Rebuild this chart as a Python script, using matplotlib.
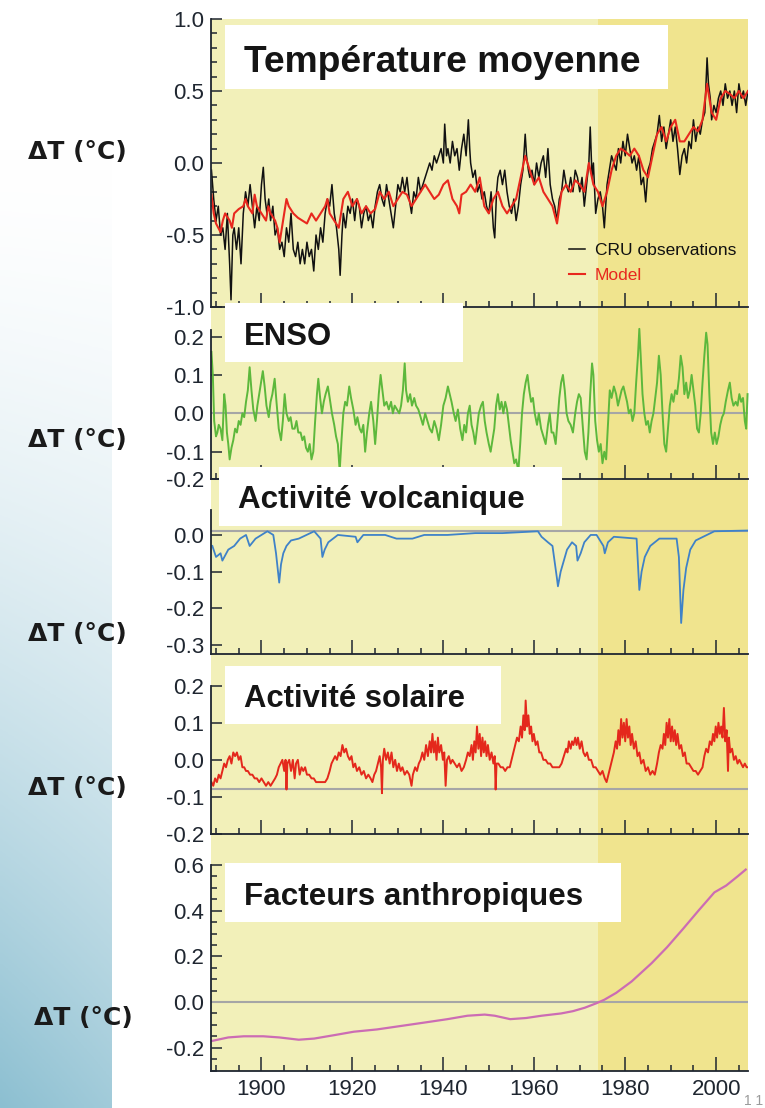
import matplotlib
matplotlib.use('Agg')
import matplotlib.pyplot as plt
import numpy as np
from matplotlib.patches import Rectangle
from matplotlib.ticker import MultipleLocator

W, H = 765, 1108

plt.rcParams['font.family'] = ['Liberation Sans', 'DejaVu Sans']
plt.rcParams['axes.unicode_minus'] = False

# --- series (year, anomaly °C) ---
CRU_OBS = [
    (1889.0, -0.05), (1889.5, -0.25), (1890.0, -0.40), (1890.5, -0.30), (1891.0, -0.50),
    (1891.5, -0.45), (1892.0, -0.60), (1892.5, -0.35), (1893.0, -0.70), (1893.3, -0.95),
    (1893.7, -0.50), (1894.0, -0.45), (1894.5, -0.60), (1895.0, -0.45), (1895.5, -0.70),
    (1896.0, -0.35), (1896.5, -0.20), (1897.0, -0.30), (1897.5, -0.15), (1898.0, -0.30),
    (1898.5, -0.45), (1899.0, -0.30), (1899.5, -0.40), (1900.0, -0.15), (1900.4, -0.03),
    (1900.8, -0.25), (1901.2, -0.35), (1901.6, -0.25), (1902.0, -0.40), (1902.5, -0.30),
    (1903.0, -0.50), (1903.5, -0.45), (1904.0, -0.60), (1904.5, -0.55), (1905.0, -0.65),
    (1905.5, -0.45), (1906.0, -0.55), (1906.5, -0.35), (1907.0, -0.60), (1907.5, -0.65),
    (1908.0, -0.55), (1908.5, -0.70), (1909.0, -0.60), (1909.5, -0.70), (1910.0, -0.55),
    (1910.5, -0.65), (1911.0, -0.60), (1911.5, -0.75), (1912.0, -0.50), (1912.5, -0.60),
    (1913.0, -0.45), (1913.5, -0.55), (1914.0, -0.35), (1914.5, -0.25), (1915.0, -0.30),
    (1915.5, -0.15), (1916.0, -0.35), (1916.5, -0.45), (1917.0, -0.60), (1917.3, -0.78),
    (1917.7, -0.50), (1918.0, -0.35), (1918.5, -0.45), (1919.0, -0.30), (1919.5, -0.35),
    (1920.0, -0.25), (1920.5, -0.40), (1921.0, -0.25), (1921.5, -0.30), (1922.0, -0.45),
    (1922.5, -0.35), (1923.0, -0.30), (1923.5, -0.40), (1924.0, -0.35), (1924.5, -0.45),
    (1925.0, -0.30), (1925.5, -0.20), (1926.0, -0.15), (1926.5, -0.25), (1927.0, -0.30),
    (1927.5, -0.15), (1928.0, -0.25), (1928.5, -0.35), (1929.0, -0.45), (1929.5, -0.30),
    (1930.0, -0.15), (1930.5, -0.20), (1931.0, -0.10), (1931.5, -0.20), (1932.0, -0.10),
    (1932.5, -0.25), (1933.0, -0.35), (1933.5, -0.20), (1934.0, -0.25), (1934.5, -0.10),
    (1935.0, -0.20), (1935.5, -0.15), (1936.0, -0.10), (1936.5, -0.05), (1937.0, 0.00),
    (1937.5, -0.05), (1938.0, 0.05), (1938.5, 0.00), (1939.0, 0.05), (1939.5, 0.10),
    (1940.0, 0.00), (1940.3, 0.27), (1940.7, 0.05), (1941.0, 0.10), (1941.5, 0.00),
    (1942.0, 0.15), (1942.5, 0.05), (1943.0, 0.10), (1943.5, -0.05), (1944.0, 0.10),
    (1944.5, 0.20), (1945.0, 0.05), (1945.5, 0.30), (1945.8, 0.10), (1946.0, 0.00),
    (1946.5, -0.10), (1947.0, -0.05), (1947.5, -0.20), (1948.0, -0.15), (1948.5, -0.25),
    (1949.0, -0.20), (1949.5, -0.30), (1950.0, -0.35), (1950.5, -0.20), (1951.0, -0.45),
    (1951.3, -0.52), (1951.7, -0.20), (1952.0, -0.10), (1952.5, -0.05), (1953.0, -0.15),
    (1953.5, -0.05), (1954.0, -0.20), (1954.5, -0.30), (1955.0, -0.35), (1955.5, -0.25),
    (1956.0, -0.40), (1956.5, -0.30), (1957.0, -0.15), (1957.5, -0.05), (1958.0, 0.20),
    (1958.3, 0.05), (1958.7, -0.05), (1959.0, -0.10), (1959.5, -0.05), (1960.0, -0.15),
    (1960.5, 0.00), (1961.0, -0.10), (1961.5, 0.00), (1962.0, 0.05), (1962.5, -0.10),
    (1963.0, 0.10), (1963.5, -0.15), (1964.0, -0.25), (1964.5, -0.30), (1965.0, -0.40),
    (1965.5, -0.25), (1966.0, -0.20), (1966.5, -0.05), (1967.0, -0.15), (1967.5, -0.20),
    (1968.0, -0.10), (1968.5, -0.20), (1969.0, -0.05), (1969.5, -0.10), (1970.0, -0.20),
    (1970.5, -0.10), (1971.0, -0.30), (1971.5, -0.15), (1972.0, 0.00), (1972.3, 0.25),
    (1972.7, -0.10), (1973.0, 0.00), (1973.5, -0.35), (1974.0, -0.25), (1974.5, -0.20),
    (1975.0, -0.30), (1975.4, -0.45), (1975.8, -0.25), (1976.0, -0.15), (1976.5, -0.05),
    (1977.0, 0.05), (1977.5, 0.00), (1978.0, -0.05), (1978.5, 0.10), (1979.0, 0.00),
    (1979.5, 0.15), (1980.0, 0.05), (1980.5, 0.20), (1981.0, 0.10), (1981.5, 0.00),
    (1982.0, 0.05), (1982.5, -0.05), (1983.0, 0.05), (1983.5, -0.15), (1984.0, -0.10),
    (1984.5, -0.27), (1985.0, -0.05), (1985.5, 0.00), (1986.0, 0.10), (1986.5, 0.15),
    (1987.0, 0.20), (1987.5, 0.33), (1988.0, 0.15), (1988.5, 0.25), (1989.0, 0.10),
    (1989.5, 0.20), (1990.0, 0.30), (1990.5, 0.15), (1991.0, 0.25), (1991.5, 0.10),
    (1992.0, -0.08), (1992.5, 0.05), (1993.0, 0.10), (1993.5, 0.00), (1994.0, 0.15),
    (1994.5, 0.10), (1995.0, 0.30), (1995.5, 0.15), (1996.0, 0.25), (1996.5, 0.20),
    (1997.0, 0.30), (1997.5, 0.35), (1998.0, 0.73), (1998.3, 0.55), (1998.7, 0.45),
    (1999.0, 0.30), (1999.5, 0.40), (2000.0, 0.35), (2000.5, 0.45), (2001.0, 0.50),
    (2001.5, 0.40), (2002.0, 0.55), (2002.5, 0.45), (2003.0, 0.50), (2003.5, 0.40),
    (2004.0, 0.50), (2004.5, 0.35), (2005.0, 0.55), (2005.5, 0.45), (2006.0, 0.50),
    (2006.5, 0.40), (2007.0, 0.50),
]

MODEL = [
    (1889.0, -0.22), (1889.5, -0.35), (1890.0, -0.42), (1890.5, -0.45), (1891.0, -0.48),
    (1891.5, -0.40), (1892.0, -0.35), (1893.0, -0.40), (1893.5, -0.45), (1894.0, -0.35),
    (1895.0, -0.32), (1896.0, -0.30), (1896.5, -0.25), (1897.0, -0.30), (1898.0, -0.35),
    (1898.5, -0.22), (1899.0, -0.30), (1900.0, -0.35), (1901.0, -0.40), (1901.5, -0.30),
    (1902.0, -0.35), (1903.0, -0.40), (1903.5, -0.45), (1904.0, -0.55), (1904.5, -0.45),
    (1905.0, -0.35), (1905.5, -0.25), (1906.0, -0.30), (1907.0, -0.35), (1908.0, -0.38),
    (1909.0, -0.40), (1910.0, -0.42), (1911.0, -0.35), (1912.0, -0.40), (1913.0, -0.35),
    (1914.0, -0.30), (1914.5, -0.25), (1915.0, -0.35), (1916.0, -0.40), (1917.0, -0.45),
    (1917.5, -0.35), (1918.0, -0.25), (1919.0, -0.20), (1920.0, -0.30), (1921.0, -0.25),
    (1922.0, -0.35), (1923.0, -0.30), (1924.0, -0.35), (1925.0, -0.32), (1926.0, -0.20),
    (1927.0, -0.25), (1928.0, -0.20), (1929.0, -0.30), (1930.0, -0.25), (1931.0, -0.20),
    (1932.0, -0.22), (1933.0, -0.30), (1934.0, -0.25), (1935.0, -0.20), (1936.0, -0.15),
    (1937.0, -0.20), (1938.0, -0.25), (1939.0, -0.22), (1940.0, -0.15), (1941.0, -0.12),
    (1942.0, -0.25), (1943.0, -0.30), (1943.5, -0.35), (1944.0, -0.22), (1945.0, -0.20),
    (1946.0, -0.15), (1947.0, -0.20), (1948.0, -0.10), (1949.0, -0.30), (1950.0, -0.35),
    (1951.0, -0.25), (1952.0, -0.20), (1953.0, -0.30), (1954.0, -0.35), (1955.0, -0.30),
    (1956.0, -0.25), (1957.0, -0.10), (1958.0, 0.05), (1959.0, -0.05), (1960.0, -0.15),
    (1961.0, -0.10), (1962.0, -0.20), (1963.0, -0.25), (1964.0, -0.30), (1965.0, -0.42),
    (1966.0, -0.20), (1967.0, -0.15), (1968.0, -0.20), (1969.0, -0.12), (1970.0, -0.15),
    (1971.0, -0.20), (1972.0, 0.00), (1973.0, -0.15), (1974.0, -0.20), (1975.0, -0.30),
    (1976.0, -0.20), (1977.0, -0.05), (1978.0, 0.05), (1979.0, 0.10), (1980.0, 0.08),
    (1981.0, 0.05), (1982.0, 0.10), (1983.0, 0.05), (1984.0, -0.05), (1985.0, -0.10),
    (1986.0, 0.05), (1987.0, 0.20), (1988.0, 0.25), (1989.0, 0.15), (1990.0, 0.25),
    (1991.0, 0.30), (1992.0, 0.15), (1993.0, 0.15), (1994.0, 0.20), (1995.0, 0.25),
    (1996.0, 0.22), (1997.0, 0.30), (1998.0, 0.55), (1998.5, 0.45), (1999.0, 0.35),
    (2000.0, 0.30), (2001.0, 0.45), (2002.0, 0.50), (2003.0, 0.48), (2004.0, 0.45),
    (2005.0, 0.50), (2006.0, 0.45), (2007.0, 0.50),
]

ENSO = [
    (1889.0, 0.16), (1889.3, 0.10), (1889.6, -0.02), (1890.0, -0.06), (1890.3, -0.05),
    (1890.6, -0.03), (1891.0, -0.04), (1891.4, -0.07), (1891.8, 0.05), (1892.1, 0.02),
    (1892.4, -0.05), (1892.7, -0.08), (1893.0, -0.12), (1893.4, -0.09), (1893.8, -0.07),
    (1894.2, -0.04), (1894.6, -0.05), (1895.0, -0.02), (1895.4, -0.03), (1895.8, 0.00),
    (1896.2, -0.01), (1896.6, 0.03), (1897.0, 0.06), (1897.4, 0.12), (1897.8, 0.06),
    (1898.2, 0.01), (1898.7, -0.02), (1899.1, 0.02), (1899.5, 0.05), (1899.9, 0.08),
    (1900.3, 0.11), (1900.7, 0.07), (1901.1, 0.02), (1901.6, -0.01), (1902.0, 0.03),
    (1902.4, 0.05), (1902.9, 0.09), (1903.3, 0.03), (1903.8, -0.04), (1904.3, -0.07),
    (1904.7, -0.02), (1905.1, 0.05), (1905.5, 0.00), (1906.0, -0.02), (1906.4, -0.01),
    (1906.8, -0.04), (1907.3, -0.04), (1907.7, -0.02), (1908.1, -0.05), (1908.6, -0.05),
    (1909.0, -0.07), (1909.4, -0.06), (1909.8, -0.09), (1910.2, -0.10), (1910.6, -0.08),
    (1911.0, -0.12), (1911.4, -0.10), (1911.8, -0.02), (1912.2, 0.05), (1912.5, 0.09),
    (1912.9, 0.04), (1913.3, 0.00), (1913.7, 0.03), (1914.1, 0.05), (1914.6, 0.07),
    (1915.0, 0.04), (1915.5, 0.00), (1916.0, -0.03), (1916.4, -0.06), (1916.8, -0.08),
    (1917.2, -0.15), (1917.6, -0.07), (1918.0, 0.00), (1918.4, 0.03), (1918.8, 0.02),
    (1919.3, 0.07), (1919.7, 0.04), (1920.2, 0.01), (1920.7, -0.03), (1921.1, -0.01),
    (1921.6, -0.04), (1922.0, -0.05), (1922.4, -0.03), (1922.8, -0.10), (1923.2, -0.05),
    (1923.7, 0.00), (1924.1, 0.03), (1924.6, -0.02), (1925.0, -0.08), (1925.4, -0.02),
    (1925.8, 0.05), (1926.2, 0.10), (1926.6, 0.06), (1927.0, 0.02), (1927.5, 0.03),
    (1928.0, 0.01), (1928.5, 0.03), (1928.9, 0.00), (1929.3, 0.02), (1929.8, 0.01),
    (1930.3, 0.00), (1930.7, 0.02), (1931.1, 0.06), (1931.5, 0.13), (1931.8, 0.06),
    (1932.2, 0.03), (1932.7, 0.05), (1933.1, 0.02), (1933.6, 0.04), (1934.0, 0.02),
    (1934.5, 0.01), (1935.0, -0.01), (1935.5, -0.03), (1936.0, 0.00), (1936.5, -0.02),
    (1937.0, -0.04), (1937.5, -0.05), (1938.0, -0.02), (1938.5, -0.04), (1939.0, -0.07),
    (1939.5, -0.03), (1940.0, 0.02), (1940.5, 0.04), (1941.0, 0.07), (1941.4, 0.05),
    (1941.8, 0.03), (1942.3, 0.00), (1942.7, -0.02), (1943.2, 0.01), (1943.7, -0.04),
    (1944.2, -0.07), (1944.6, -0.03), (1945.0, -0.05), (1945.4, 0.00), (1945.8, 0.02),
    (1946.2, -0.03), (1946.6, -0.05), (1947.0, -0.08), (1947.4, -0.04), (1947.8, 0.00),
    (1948.3, 0.02), (1948.7, 0.03), (1949.1, -0.02), (1949.5, -0.05), (1950.0, -0.08),
    (1950.4, -0.10), (1950.8, -0.07), (1951.2, -0.04), (1951.6, 0.02), (1952.0, 0.05),
    (1952.4, 0.01), (1952.8, 0.03), (1953.2, 0.00), (1953.6, 0.03), (1954.0, 0.01),
    (1954.4, -0.03), (1954.8, -0.07), (1955.2, -0.10), (1955.6, -0.13), (1956.0, -0.12),
    (1956.5, -0.15), (1956.9, -0.08), (1957.3, 0.00), (1957.7, 0.05), (1958.1, 0.08),
    (1958.5, 0.10), (1958.9, 0.06), (1959.3, 0.03), (1959.7, 0.04), (1960.1, 0.00),
    (1960.6, -0.03), (1961.0, 0.00), (1961.5, -0.04), (1962.0, -0.06), (1962.5, -0.08),
    (1963.0, -0.03), (1963.4, 0.00), (1963.8, -0.05), (1964.2, -0.05), (1964.7, -0.08),
    (1965.1, -0.02), (1965.5, 0.04), (1965.9, 0.08), (1966.3, 0.10), (1966.7, 0.06),
    (1967.1, 0.00), (1967.5, -0.02), (1968.0, -0.03), (1968.5, -0.05), (1969.0, 0.00),
    (1969.4, 0.03), (1969.8, 0.05), (1970.2, 0.04), (1970.7, -0.04), (1971.1, -0.10),
    (1971.5, -0.12), (1971.9, -0.05), (1972.3, 0.05), (1972.7, 0.13), (1973.0, 0.10),
    (1973.4, -0.02), (1973.8, -0.07), (1974.2, -0.10), (1974.6, -0.08), (1975.0, -0.13),
    (1975.4, -0.10), (1975.8, -0.12), (1976.2, -0.03), (1976.6, 0.06), (1977.0, 0.04),
    (1977.5, 0.07), (1978.0, 0.05), (1978.4, 0.02), (1978.8, 0.04), (1979.2, 0.06),
    (1979.6, 0.07), (1980.0, 0.05), (1980.4, 0.03), (1980.8, 0.00), (1981.2, 0.01),
    (1981.6, -0.02), (1982.0, 0.00), (1982.4, 0.08), (1982.8, 0.15), (1983.1, 0.22),
    (1983.4, 0.15), (1983.8, 0.05), (1984.2, 0.00), (1984.6, -0.03), (1985.0, -0.02),
    (1985.4, -0.05), (1985.8, -0.02), (1986.2, 0.00), (1986.6, 0.04), (1987.0, 0.08),
    (1987.4, 0.15), (1987.8, 0.10), (1988.2, 0.00), (1988.6, -0.08), (1989.0, -0.10),
    (1989.4, -0.04), (1989.8, 0.02), (1990.2, 0.05), (1990.6, 0.03), (1991.0, 0.06),
    (1991.4, 0.05), (1991.8, 0.09), (1992.2, 0.15), (1992.6, 0.12), (1993.0, 0.05),
    (1993.4, 0.08), (1993.8, 0.04), (1994.2, 0.06), (1994.6, 0.10), (1995.0, 0.06),
    (1995.4, 0.02), (1995.8, -0.04), (1996.2, -0.05), (1996.6, 0.00), (1997.0, 0.08),
    (1997.4, 0.15), (1997.8, 0.21), (1998.1, 0.18), (1998.5, 0.05), (1998.9, -0.05),
    (1999.3, -0.08), (1999.7, -0.05), (2000.1, -0.08), (2000.5, -0.06), (2000.9, -0.03),
    (2001.3, -0.01), (2001.7, 0.00), (2002.1, 0.03), (2002.6, 0.06), (2003.0, 0.08),
    (2003.4, 0.04), (2003.8, 0.02), (2004.3, 0.03), (2004.7, 0.02), (2005.1, 0.05),
    (2005.5, 0.03), (2005.9, 0.04), (2006.3, -0.02), (2006.6, -0.04), (2006.9, 0.05),
]

VOLCANIC = [
    (1889.2, -0.03), (1890.0, -0.06), (1891.0, -0.05), (1891.4, -0.07), (1892.7, -0.04),
    (1894.0, -0.03), (1895.3, -0.01), (1896.6, 0.00), (1897.4, -0.03), (1898.7, -0.01),
    (1901.3, 0.01), (1902.6, 0.00), (1903.2, -0.05), (1903.9, -0.13), (1904.3, -0.08),
    (1904.8, -0.05), (1905.5, -0.03), (1906.5, -0.015), (1908.2, -0.01), (1911.6, 0.01),
    (1913.0, -0.01), (1913.4, -0.06), (1913.9, -0.04), (1914.7, -0.02), (1916.8, 0.00),
    (1920.7, -0.005), (1921.1, -0.02), (1922.4, 0.00), (1927.2, 0.00), (1929.7, -0.01),
    (1933.2, -0.01), (1935.8, 0.00), (1940.9, 0.00), (1947.0, 0.005), (1953.0, 0.005),
    (1960.8, 0.01), (1961.6, -0.005), (1963.0, -0.02), (1964.0, -0.03), (1965.0, -0.12),
    (1965.2, -0.14), (1965.8, -0.10), (1966.5, -0.07), (1967.2, -0.04), (1968.3, -0.02),
    (1969.2, -0.03), (1969.5, -0.07), (1970.2, -0.05), (1971.0, -0.02), (1972.4, 0.00),
    (1973.7, 0.00), (1975.2, -0.03), (1975.5, -0.05), (1976.2, -0.02), (1977.5, -0.005),
    (1982.5, -0.01), (1983.1, -0.15), (1983.6, -0.10), (1984.3, -0.06), (1985.5, -0.03),
    (1987.5, -0.01), (1991.3, -0.01), (1991.8, -0.06), (1992.3, -0.24), (1992.8, -0.15),
    (1993.4, -0.09), (1994.3, -0.04), (1995.5, -0.015), (1999.6, 0.01), (2006.9, 0.012),
]

SOLAR = [
    (1889.0, -0.06), (1889.4, -0.07), (1889.8, -0.05), (1890.2, -0.06), (1890.6, -0.04),
    (1891.0, -0.05), (1891.4, -0.03), (1891.8, -0.01), (1892.2, -0.02), (1892.6, 0.00),
    (1893.0, 0.01), (1893.4, -0.01), (1893.8, 0.02), (1894.2, 0.01), (1894.6, 0.02),
    (1895.0, 0.00), (1895.4, 0.01), (1895.8, -0.02), (1896.2, -0.02), (1896.6, -0.03),
    (1897.0, -0.03), (1897.5, -0.04), (1898.0, -0.04), (1898.5, -0.05), (1899.0, -0.05),
    (1899.5, -0.06), (1900.0, -0.05), (1900.5, -0.06), (1901.0, -0.07), (1901.5, -0.06),
    (1902.0, -0.07), (1902.5, -0.06), (1903.0, -0.05), (1903.4, -0.04), (1903.8, -0.02),
    (1904.2, -0.01), (1904.6, 0.00), (1905.0, -0.03), (1905.3, 0.00), (1905.5, -0.08),
    (1905.7, -0.01), (1906.1, 0.00), (1906.5, -0.03), (1906.9, 0.00), (1907.3, -0.05),
    (1907.6, -0.01), (1908.0, 0.00), (1908.4, -0.04), (1908.8, -0.02), (1909.2, -0.03),
    (1909.6, -0.02), (1910.0, -0.04), (1910.5, -0.04), (1911.0, -0.05), (1911.5, -0.05),
    (1912.0, -0.06), (1912.5, -0.06), (1913.0, -0.06), (1913.5, -0.06), (1914.0, -0.06),
    (1914.5, -0.05), (1915.0, -0.03), (1915.4, -0.01), (1915.8, 0.00), (1916.2, 0.01),
    (1916.6, 0.00), (1917.0, 0.02), (1917.4, 0.01), (1917.8, 0.04), (1918.2, 0.02),
    (1918.6, 0.03), (1919.0, 0.01), (1919.4, 0.00), (1919.8, 0.01), (1920.2, -0.02),
    (1920.6, -0.01), (1921.0, -0.03), (1921.5, -0.02), (1922.0, -0.04), (1922.5, -0.03),
    (1923.0, -0.05), (1923.5, -0.04), (1924.0, -0.05), (1924.4, -0.06), (1924.8, -0.04),
    (1925.2, -0.03), (1925.6, -0.01), (1926.0, 0.01), (1926.3, -0.02), (1926.5, -0.09),
    (1926.7, 0.00), (1927.0, 0.03), (1927.4, 0.00), (1927.8, 0.02), (1928.2, -0.01),
    (1928.6, 0.02), (1929.0, -0.02), (1929.4, 0.00), (1929.8, -0.03), (1930.2, -0.01),
    (1930.6, -0.03), (1931.0, -0.02), (1931.5, -0.04), (1932.0, -0.03), (1932.5, -0.04),
    (1933.0, -0.07), (1933.3, -0.04), (1933.8, -0.02), (1934.2, -0.03), (1934.6, -0.01),
    (1935.0, 0.00), (1935.4, 0.02), (1935.8, 0.00), (1936.2, 0.04), (1936.6, 0.01),
    (1937.0, 0.05), (1937.3, 0.02), (1937.6, 0.07), (1937.9, 0.02), (1938.2, 0.05),
    (1938.5, 0.00), (1938.8, 0.06), (1939.1, 0.02), (1939.5, 0.04), (1939.9, 0.00),
    (1940.2, 0.02), (1940.5, -0.07), (1940.8, 0.00), (1941.2, 0.01), (1941.6, -0.01),
    (1942.0, 0.00), (1942.5, -0.01), (1943.0, -0.02), (1943.5, -0.01), (1944.0, -0.03),
    (1944.5, -0.02), (1945.0, 0.00), (1945.4, 0.02), (1945.8, 0.01), (1946.2, 0.04),
    (1946.5, 0.00), (1946.8, 0.05), (1947.1, 0.02), (1947.4, 0.09), (1947.7, 0.03),
    (1948.0, 0.07), (1948.3, 0.01), (1948.6, 0.06), (1948.9, 0.02), (1949.2, 0.05),
    (1949.5, 0.01), (1949.8, 0.04), (1950.2, 0.00), (1950.6, 0.02), (1951.0, -0.01),
    (1951.3, 0.01), (1951.5, -0.08), (1951.7, -0.01), (1952.1, -0.01), (1952.6, -0.02),
    (1953.1, -0.02), (1953.6, -0.03), (1954.1, -0.02), (1954.6, -0.02), (1955.0, 0.00),
    (1955.4, 0.02), (1955.8, 0.04), (1956.2, 0.06), (1956.6, 0.05), (1957.0, 0.09),
    (1957.3, 0.06), (1957.6, 0.12), (1957.9, 0.08), (1958.1, 0.16), (1958.4, 0.09),
    (1958.7, 0.12), (1959.0, 0.07), (1959.3, 0.09), (1959.6, 0.05), (1959.9, 0.07),
    (1960.3, 0.04), (1960.7, 0.05), (1961.1, 0.02), (1961.5, 0.02), (1962.0, 0.00),
    (1962.5, 0.00), (1963.0, -0.01), (1963.5, -0.01), (1964.0, -0.02), (1964.5, -0.02),
    (1965.0, -0.02), (1965.5, -0.02), (1966.0, -0.01), (1966.5, 0.01), (1967.0, 0.03),
    (1967.3, 0.02), (1967.6, 0.05), (1968.0, 0.03), (1968.3, 0.05), (1968.6, 0.04),
    (1969.0, 0.06), (1969.3, 0.04), (1969.6, 0.06), (1970.0, 0.03), (1970.4, 0.05),
    (1970.8, 0.02), (1971.2, 0.01), (1971.6, 0.02), (1972.0, 0.00), (1972.5, 0.00),
    (1973.0, -0.02), (1973.5, -0.02), (1974.0, -0.03), (1974.5, -0.04), (1975.0, -0.03),
    (1975.5, -0.05), (1975.9, -0.06), (1976.3, -0.04), (1976.7, -0.02), (1977.1, 0.00),
    (1977.5, 0.02), (1977.9, 0.05), (1978.2, 0.03), (1978.5, 0.08), (1978.8, 0.04),
    (1979.1, 0.11), (1979.4, 0.06), (1979.7, 0.10), (1980.0, 0.05), (1980.3, 0.11),
    (1980.6, 0.06), (1980.9, 0.09), (1981.2, 0.04), (1981.5, 0.07), (1981.9, 0.03),
    (1982.3, 0.05), (1982.7, 0.01), (1983.1, 0.02), (1983.5, -0.01), (1984.0, 0.00),
    (1984.5, -0.03), (1985.0, -0.02), (1985.5, -0.04), (1986.0, -0.03), (1986.5, -0.04),
    (1987.0, -0.01), (1987.4, 0.02), (1987.8, 0.04), (1988.2, 0.03), (1988.5, 0.07),
    (1988.8, 0.04), (1989.1, 0.10), (1989.4, 0.06), (1989.7, 0.11), (1990.0, 0.05),
    (1990.3, 0.09), (1990.6, 0.05), (1990.9, 0.08), (1991.2, 0.04), (1991.5, 0.07),
    (1991.9, 0.03), (1992.3, 0.04), (1992.7, 0.01), (1993.1, 0.02), (1993.5, -0.01),
    (1994.0, -0.01), (1994.5, -0.02), (1995.0, -0.03), (1995.5, -0.03), (1996.0, -0.04),
    (1996.5, -0.03), (1997.0, -0.02), (1997.4, 0.01), (1997.8, 0.03), (1998.2, 0.02),
    (1998.6, 0.05), (1999.0, 0.04), (1999.3, 0.07), (1999.6, 0.05), (1999.9, 0.09),
    (2000.2, 0.06), (2000.5, 0.10), (2000.8, 0.07), (2001.1, 0.09), (2001.4, 0.06),
    (2001.7, 0.14), (2002.0, 0.05), (2002.3, 0.08), (2002.6, -0.03), (2002.8, 0.06),
    (2003.1, 0.02), (2003.5, 0.03), (2003.9, 0.00), (2004.3, 0.01), (2004.7, -0.01),
    (2005.1, 0.00), (2005.5, -0.01), (2005.9, -0.02), (2006.3, -0.01), (2006.7, -0.02),
    (2007.0, -0.02),
]

ANTHRO = [
    (1889.2, -0.17), (1892.7, -0.155), (1896.1, -0.15), (1900.4, -0.15), (1903.9, -0.155),
    (1908.2, -0.165), (1911.6, -0.16), (1916.0, -0.145), (1920.3, -0.13), (1925.4, -0.12),
    (1930.6, -0.105), (1935.8, -0.09), (1940.9, -0.075), (1945.3, -0.06), (1949.1, -0.055),
    (1951.3, -0.06), (1954.7, -0.075), (1958.2, -0.07), (1961.6, -0.06), (1965.9, -0.05),
    (1968.5, -0.04), (1971.1, -0.025), (1973.7, -0.005), (1975.4, 0.01), (1978.0, 0.04),
    (1981.4, 0.09), (1985.8, 0.17), (1989.2, 0.24), (1992.7, 0.32), (1996.1, 0.40),
    (1999.6, 0.48), (2002.2, 0.51), (2004.7, 0.55), (2006.5, 0.58),
]

# reference (grey) levels drawn in each forcing panel
ENSO_REF = 0.0
VOLC_REF = 0.012
SOLAR_REF = -0.078
ANTHRO_REF = 0.0

XMIN, XMAX = 1888.9, 2007.0
SPLIT = 1974.0

TITLES = ['Température moyenne', 'ENSO', 'Activité volcanique',
          'Activité solaire', 'Facteurs anthropiques']
YLABEL = 'ΔT (°C)'

LIGHT_YELLOW = '#f2f0b9'
DARK_YELLOW = '#f0e48e'
INK = '#1f2630'
GREY = '#a6a6a6'


def frac(x0, y0, x1, y1):
    # pixel box (top-left origin) -> figure fraction rect
    return [x0 / W, 1 - y1 / H, (x1 - x0) / W, (y1 - y0) / H]


def series(pairs):
    arr = np.array(pairs, dtype=float)
    return arr[:, 0], arr[:, 1]


def style(ax, ylim, ticks, labels, minor=None, xlabels=False):
    ax.set_xlim(XMIN, XMAX)
    ax.set_ylim(*ylim)
    ax.set_facecolor('none')
    for s in ('top', 'right'):
        ax.spines[s].set_visible(False)
    for s in ('left', 'bottom'):
        ax.spines[s].set_linewidth(1.3)
        ax.spines[s].set_color(INK)
    ax.set_yticks(ticks)
    ax.set_yticklabels(labels)
    if minor:
        ax.yaxis.set_minor_locator(MultipleLocator(minor))
    ax.xaxis.set_major_locator(MultipleLocator(20))
    ax.xaxis.set_minor_locator(MultipleLocator(5))
    ax.tick_params(which='both', direction='in', color=INK, width=1.1,
                   labelcolor=INK, labelsize=16)
    ax.tick_params(axis='y', which='major', length=8, pad=5)
    ax.tick_params(axis='y', which='minor', length=4)
    ax.tick_params(axis='x', which='major', length=10, pad=6, labelbottom=xlabels)
    ax.tick_params(axis='x', which='minor', length=4.5)


fig = plt.figure(figsize=(W / 100, H / 100), dpi=100)
fig.patch.set_facecolor('white')

# bluish slide strip on the left edge
strip = fig.add_axes(frac(0, 0, 112, H), zorder=-5)
yy = np.linspace(0, 1, 300)[:, None]
xx = np.linspace(0, 1, 40)[None, :]
t = np.clip((yy * H - 150) / (H - 150), 0, 1) ** 1.5 * (1 - 0.18 * xx)
tint = np.array([0.55, 0.75, 0.82])
img = 1 - t[..., None] * (1 - tint)
strip.imshow(img, aspect='auto', extent=(0, 1, 1, 0))
strip.axis('off')

# yellow backdrop behind all panels, darker after 1974
bg = fig.add_axes(frac(211, 19, 748, 1071), zorder=-2)
bg.set_xlim(XMIN, XMAX)
bg.axvspan(XMIN, SPLIT, color=LIGHT_YELLOW, lw=0)
bg.axvspan(SPLIT, XMAX, color=DARK_YELLOW, lw=0)
bg.axis('off')

# panel 1: global mean temperature
ax1 = fig.add_axes(frac(211, 19, 748, 307))
x, y = series(CRU_OBS)
ax1.plot(x, y, color='#111111', lw=1.1, label='CRU observations')
x, y = series(MODEL)
ax1.plot(x, y, color='#e8281e', lw=1.5, label='Model')
style(ax1, (-1, 1), [-1, -0.5, 0, 0.5, 1], ['-1.0', '-0.5', '0.0', '0.5', '1.0'], minor=0.1)
leg = ax1.legend(loc='center left', bbox_to_anchor=((569 - 211) / 537, (307 - 263) / 288),
                 frameon=False, fontsize=12.5, handlelength=0.9, handletextpad=0.6,
                 labelspacing=0.55, borderpad=0, borderaxespad=0)
for txt, ln in zip(leg.get_texts(), leg.get_lines()):
    txt.set_color(ln.get_color())

# panel 2: ENSO
ax2 = fig.add_axes(frac(211, 330, 748, 478.6))
ax2.axhline(ENSO_REF, color=GREY, lw=1.5)
x, y = series(ENSO)
ax2.plot(x, y, color='#5db83c', lw=1.4, clip_on=False)
style(ax2, (-0.17, 0.217), [-0.17, -0.1, 0, 0.1, 0.2], ['-0.2', '-0.1', '0.0', '0.1', '0.2'])

# panel 3: volcanic
ax3 = fig.add_axes(frac(211, 510, 748, 654.4))
ax3.axhline(VOLC_REF, color=GREY, lw=1.5)
x, y = series(VOLCANIC)
ax3.plot(x, y, color='#3f82c8', lw=1.3)
style(ax3, (-0.3256, 0.068), [-0.3, -0.2, -0.1, 0], ['-0.3', '-0.2', '-0.1', '0.0'])

# panel 4: solar
ax4 = fig.add_axes(frac(211, 685.7, 748, 834))
ax4.axhline(SOLAR_REF, color=GREY, lw=1.5)
x, y = series(SOLAR)
ax4.plot(x, y, color='#e4281c', lw=1.4)
style(ax4, (-0.2, 0.2), [-0.2, -0.1, 0, 0.1, 0.2], ['-0.2', '-0.1', '0.0', '0.1', '0.2'])

# panel 5: anthropogenic
ax5 = fig.add_axes(frac(211, 865, 748, 1071))
ax5.axhline(ANTHRO_REF, color=GREY, lw=1.5)
x, y = series(ANTHRO)
ax5.plot(x, y, color='#cc6cb4', lw=1.6)
style(ax5, (-0.302, 0.6), [-0.2, 0, 0.2, 0.4, 0.6], ['-0.2', '0.0', '0.2', '0.4', '0.6'],
      minor=0.05, xlabels=True)

# white title boxes
boxes = [(224.5, 25, 668.4, 89), (224.5, 303, 462.5, 361.7), (218.6, 466.7, 561.8, 526),
         (224.5, 666, 501, 724.3), (224.5, 863.3, 620.6, 921.7)]
text_pos = [(244, 72), (244, 345), (238, 508.3), (244, 706.7), (244, 905)]
sizes = [26.8, 22.4, 22.6, 22.3, 22.6]
for title, (bx0, by0, bx1, by1), (tx, ty), fs in zip(TITLES, boxes, text_pos, sizes):
    r = frac(bx0, by0, bx1, by1)
    fig.add_artist(Rectangle((r[0], r[1]), r[2], r[3], transform=fig.transFigure,
                             facecolor='white', edgecolor='none', zorder=2))
    fig.text(tx / W, 1 - ty / H, title, fontsize=fs, fontweight='bold',
             color='#151515', ha='left', va='baseline', zorder=3)

# ΔT labels on the left
for lx, ly in [(77, 152), (77, 440), (77, 634), (77, 788), (83, 1018)]:
    fig.text(lx / W, 1 - ly / H, YLABEL, fontsize=18, fontweight='bold',
             family='DejaVu Sans', color='#1a1a1a', ha='center', va='center')

fig.text(744 / W, 1 - 1101 / H, '1 1', fontsize=10, color='#9a9a9a',
         ha='left', va='center')

fig.savefig('out.png', dpi=100)
